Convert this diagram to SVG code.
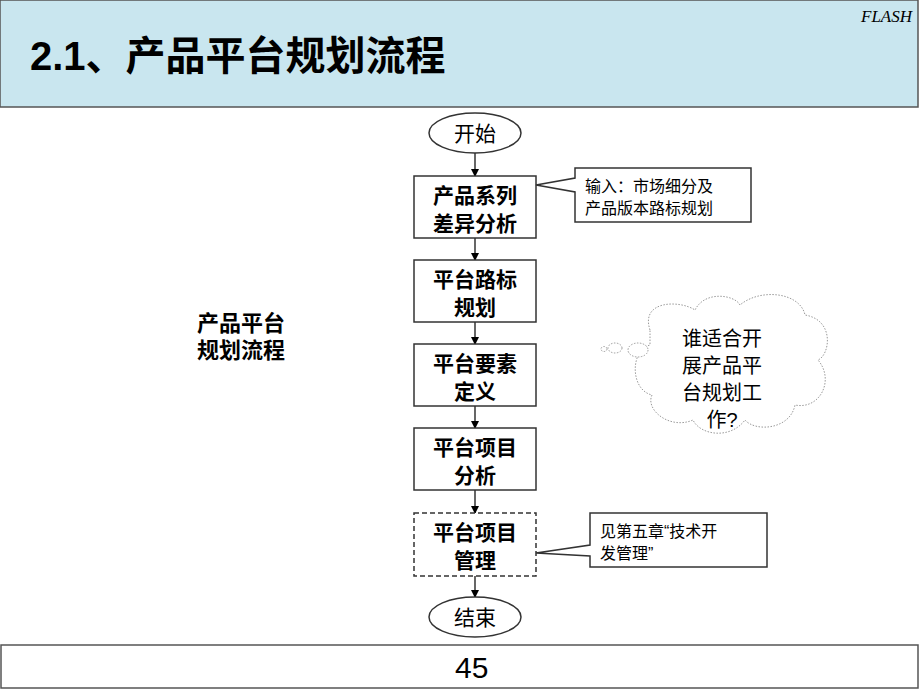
<svg xmlns="http://www.w3.org/2000/svg" width="920" height="690" viewBox="0 0 920 690">
<style>
.t{font-family:"Liberation Sans","Noto Sans CJK SC",sans-serif;fill:#000}
.b{fill:#fff;stroke:#333;stroke-width:1.5}
.bt{font-size:21px;font-weight:bold;text-anchor:middle}
.c{font-size:16px}
.ln{stroke:#000;stroke-width:1.2;fill:none;marker-end:url(#a)}
</style>
<defs><marker id="a" markerWidth="8" markerHeight="8" refX="7" refY="4" orient="auto" markerUnits="userSpaceOnUse"><path d="M0,0L8,4L0,8z" fill="#000"/></marker></defs>
<rect x="0" y="0" width="918" height="107" fill="#c9e6ef" stroke="#555" stroke-width="1.5"/>
<text class="t" x="30" y="70" font-size="40" font-weight="bold">2.1、产品平台规划流程</text>
<text x="912" y="22" font-family="Liberation Serif,serif" font-style="italic" font-size="17" text-anchor="end">FLASH</text>
<text class="t" x="241" y="331" font-size="22" font-weight="bold" text-anchor="middle">产品平台</text>
<text class="t" x="241" y="358" font-size="22" font-weight="bold" text-anchor="middle">规划流程</text>
<g id="connectors">
<line class="ln" x1="475" y1="153" x2="475" y2="176"/>
<line class="ln" x1="475" y1="238" x2="475" y2="260"/>
<line class="ln" x1="475" y1="322" x2="475" y2="344"/>
<line class="ln" x1="475" y1="406" x2="475" y2="428"/>
<line class="ln" x1="475" y1="490" x2="475" y2="513"/>
<line class="ln" x1="475" y1="576" x2="475" y2="597"/>
</g>
<g id="start"><ellipse cx="475" cy="133" rx="46" ry="20" class="b"/><text class="t" x="475" y="141" font-size="21" text-anchor="middle">开始</text></g>
<g id="n1"><rect x="414" y="176" width="122" height="62" class="b"/><text class="t bt" x="475" y="203">产品系列</text><text class="t bt" x="475" y="231">差异分析</text></g>
<g id="n2"><rect x="414" y="260" width="122" height="62" class="b"/><text class="t bt" x="475" y="287">平台路标</text><text class="t bt" x="475" y="315">规划</text></g>
<g id="n3"><rect x="414" y="344" width="122" height="62" class="b"/><text class="t bt" x="475" y="371">平台要素</text><text class="t bt" x="475" y="399">定义</text></g>
<g id="n4"><rect x="414" y="428" width="122" height="62" class="b"/><text class="t bt" x="475" y="455">平台项目</text><text class="t bt" x="475" y="483">分析</text></g>
<g id="n5"><rect x="414" y="513" width="122" height="63" fill="#fff" stroke="#333" stroke-width="1.5" stroke-dasharray="5,3"/><text class="t bt" x="475" y="540">平台项目</text><text class="t bt" x="475" y="568">管理</text></g>
<g id="end"><ellipse cx="475" cy="617" rx="46" ry="20" class="b"/><text class="t" x="475" y="625" font-size="21" text-anchor="middle">结束</text></g>
<g id="callout1"><path d="M575,168H751V222H575V192L536,185L575,178Z" class="b"/><text class="t c" x="585" y="192">输入：市场细分及</text><text class="t c" x="585" y="214">产品版本路标规划</text></g>
<g id="callout2"><path d="M590,513H767V567H590V556L536,553L590,545Z" class="b"/><text class="t c" x="600" y="537">见第五章“技术开</text><text class="t c" x="600" y="559">发管理”</text></g>
<g id="cloud" fill="#fff" stroke="#999" stroke-width="1" stroke-dasharray="1.5,1.5">
<path d="M650,330C640,300 680,300 695,310C705,290 735,295 740,305C760,288 800,292 805,315C835,320 830,355 818,360C835,380 820,410 795,405C790,430 755,432 745,420C730,440 700,435 693,420C670,430 645,410 652,395C630,390 630,350 650,345Z"/>
<ellipse cx="638" cy="350" rx="10" ry="7"/>
<ellipse cx="615" cy="348" rx="7" ry="5"/>
<ellipse cx="604" cy="349" rx="3" ry="2.5"/>
</g>
<g class="t" font-size="20" text-anchor="middle">
<text x="722" y="346">谁适合开</text><text x="722" y="373">展产品平</text><text x="722" y="400">台规划工</text><text x="722" y="427">作?</text>
</g>
<rect x="1" y="645" width="917" height="43" fill="#fff" stroke="#555" stroke-width="1.5"/>
<text class="t" x="455" y="678" font-size="30">45</text>
</svg>
